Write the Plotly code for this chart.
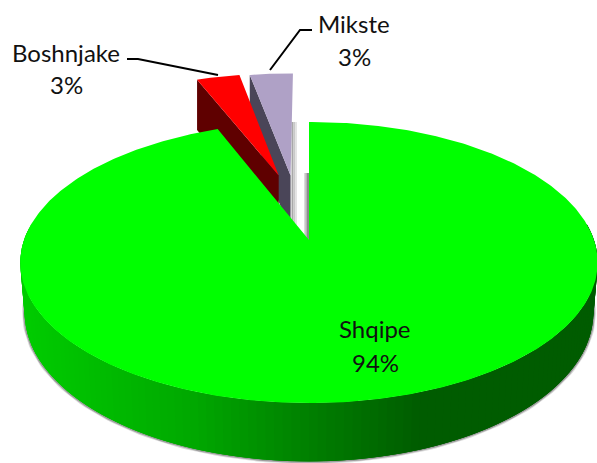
import numpy as np
import plotly.graph_objects as go

categories = ["Shqipe", "Boshnjake", "Mikste"]
shares = [94, 3, 3]
percent_labels = ["94%", "3%", "3%"]

# view / geometry settings
W, H = 597, 463
CX, CY = 309, 240
RX, RY = 285, 137
PERSP = 0.16
DEPTH_MAIN = 49
DEPTH_EXPLODED = 62
BOTTOM_SCALE = 0.985
EXPLODE = [(0, 0), (-0.115, -0.51), (-0.07, -0.51)]
TOP_COL = ["#00ff00", "#ff0000", "#afa1c6"]
CUT_COL = [None, "#5f0000", "#4a4558"]

def project(X, Y, depth=0.0, scale=1.0):
    X, Y = np.asarray(X, float), np.asarray(Y, float)
    w = 1 - PERSP * Y
    return CX + scale * RX * X / w, CY + (RY * Y + depth) / w

fracs = np.array(shares) / sum(shares)
edges = np.concatenate([[0], np.cumsum(fracs)]) * 2 * np.pi

def wedge(i, n=200):
    t = np.linspace(edges[i], edges[i + 1], n)
    ex, ey = EXPLODE[i]
    return np.concatenate([[ex], ex + np.sin(t), [ex]]), np.concatenate([[ey], ey - np.cos(t), [ey]])

fig = go.Figure()

def poly(x, y, color, line=0.0):
    fig.add_trace(go.Scatter(x=x, y=y, mode="lines", fill="toself", fillcolor=color,
                             line=dict(color=color, width=line), hoverinfo="skip", showlegend=False))

# exploded slices, back one first: cut face then top
for i in (2, 1):
    ex, ey = EXPLODE[i]
    t = edges[i]
    Xe = np.array([ex + np.sin(t), ex])
    Ye = np.array([ey - np.cos(t), ey])
    tx, ty = project(Xe, Ye)
    bx, by = project(Xe, Ye, DEPTH_EXPLODED)
    poly(np.r_[tx, bx[::-1]], np.r_[ty, by[::-1]], CUT_COL[i])
    X, Y = wedge(i)
    x, y = project(X, Y)
    poly(x, y, TOP_COL[i])

# main slice: soft rim shadow, then side wall, then top
phi = np.linspace(3 * np.pi / 2 + 0.12, np.pi / 2 - 0.12, 131)  # left to right along the front
stop_x = [0, 23, 190, 304, 418, 597]
stop_g = [204, 204, 168, 128, 92, 92]
sx, sy = project(np.sin(phi), -np.cos(phi), DEPTH_MAIN, BOTTOM_SCALE)
for width, col in ((5, "rgba(150,150,150,0.35)"), (3, "rgba(110,110,110,0.55)")):
    fig.add_trace(go.Scatter(x=sx, y=sy, mode="lines", line=dict(color=col, width=width),
                             hoverinfo="skip", showlegend=False))
for k in range(len(phi) - 1):
    a, b = phi[k], phi[min(k + 3, len(phi) - 1)]  # overlap the next quads so no seams show
    XX = np.sin([a, b]); YY = -np.cos([a, b])
    tx, ty = project(XX, YY)
    bx, by = project(XX, YY, DEPTH_MAIN, BOTTOM_SCALE)
    g = int(np.interp(project(np.sin(a), -np.cos(a))[0], stop_x, stop_g))
    poly(np.r_[tx, bx[::-1]], np.r_[ty, by[::-1]], f"rgb(0,{g},0)")
X, Y = wedge(0, 500)
x, y = project(X, Y)
poly(x, y, TOP_COL[0])

# labels
LABEL_POS = [(375, 328, 362), (66, 52, 84), (354, 23, 56)]
ann = []
for cat, pct, (lx, y1, y2) in zip(categories, percent_labels, LABEL_POS):
    for txt, ly in ((cat, y1), (pct, y2)):
        ann.append(dict(x=lx, y=ly, text=txt, showarrow=False, xref="x", yref="y",
                        font=dict(family="Lato", size=24, color="#111111")))

leaders = ["M127,59 L138,59 L218,75", "M312,30 L300,30 L270,70"]
shapes = [dict(type="path", path=p, xref="x", yref="y", line=dict(color="black", width=2)) for p in leaders]
# faint grey shadow strips in the gap beside the cut faces
for xs, y0, y1, col in ((292.5, 122, 225, "#a8a8a8"), (294.5, 122, 225, "#c8c8c8"), (296, 122, 225, "#e4e4e4"),
                        (305, 173, 236, "#dcdcdc"), (306.5, 173, 238, "#b4b4b4"), (308, 173, 240, "#8c8c8c")):
    shapes.append(dict(type="line", x0=xs, x1=xs, y0=y0, y1=y1, xref="x", yref="y", layer="below",
                       line=dict(color=col, width=2)))

fig.update_layout(width=W, height=H, margin=dict(l=0, r=0, t=0, b=0), paper_bgcolor="white",
                  plot_bgcolor="white", showlegend=False, annotations=ann, shapes=shapes,
                  xaxis=dict(range=[0, W], visible=False, fixedrange=True),
                  yaxis=dict(range=[H, 0], visible=False, fixedrange=True))
fig.write_html("out.html", config=dict(displayModeBar=False),
               post_script="document.body.style.margin='0';document.documentElement.style.overflow='hidden';")
